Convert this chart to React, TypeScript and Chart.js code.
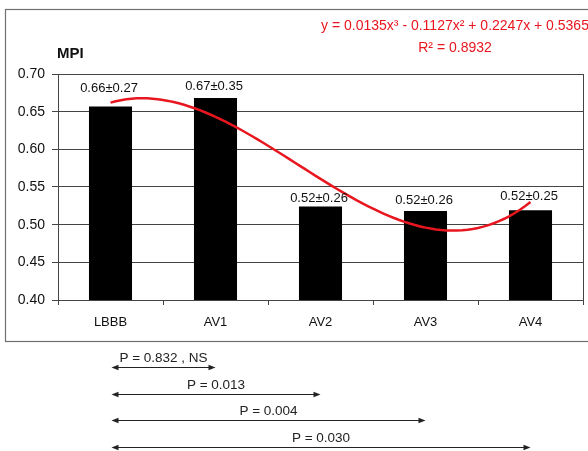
import { useEffect, useRef } from "react";
import { Chart, registerables } from "chart.js";

Chart.register(...registerables);

// Mean MPI per pacing mode
const categories = ["LBBB", "AV1", "AV2", "AV3", "AV4"];
const mpiMeans = [0.657, 0.668, 0.524, 0.518, 0.519];
const meanLabels = ["0.66±0.27", "0.67±0.35", "0.52±0.26", "0.52±0.26", "0.52±0.25"];

// y axis range
const yMin = 0.4;
const yMax = 0.7;
const yStep = 0.05;

// Cubic trendline: coefficients for x³, x², x, constant
const trendCoefficients = [0.0135, -0.1127, 0.2247, 0.5365];
const trendEquation = "y = 0.0135x³ - 0.1127x² + 0.2247x + 0.5365";
const trendR2 = "R² = 0.8932";

// Pairwise comparisons against LBBB (index 0)
const comparisonTargets = [1, 2, 3, 4];
const comparisonLabels = ["P = 0.832 , NS", "P = 0.013", "P = 0.004", "P = 0.030"];

// Lift (px) of each mean label above its bar
const labelLift = [18, 12, 8, 11, 14];

const FONT = "'Liberation Sans', Arial, Helvetica, sans-serif";
const RED = "#e8161e";
const INK = "#111";

function trendPoints() {
  const pts: { x: number; y: number }[] = [];
  const n = 80;
  for (let i = 0; i <= n; i++) {
    const x = 1 + (4 * i) / n;
    const [a, b, c, d] = trendCoefficients;
    pts.push({ x, y: a * x * x * x + b * x * x + c * x + d });
  }
  return pts;
}

function drawArrowHead(ctx: CanvasRenderingContext2D, x: number, y: number, dir: number) {
  ctx.beginPath();
  ctx.moveTo(x, y);
  ctx.lineTo(x - dir * 7, y - 2.8);
  ctx.lineTo(x - dir * 7, y + 2.8);
  ctx.closePath();
  ctx.fill();
}

const decorations = {
  id: "decorations",
  afterDraw(chart: any) {
    const { ctx, chartArea, scales } = chart;
    const xs = scales.x;
    const ys = scales.y;
    ctx.save();

    // outer frame
    ctx.strokeStyle = "#707070";
    ctx.lineWidth = 1.2;
    ctx.strokeRect(5.5, 9.5, 620, 332);

    // right edge of plot area
    ctx.strokeStyle = "#444";
    ctx.lineWidth = 1;
    ctx.beginPath();
    ctx.moveTo(Math.round(chartArea.right) + 0.5, chartArea.top);
    ctx.lineTo(Math.round(chartArea.right) + 0.5, chartArea.bottom + 5);
    ctx.stroke();

    // axis title
    ctx.fillStyle = INK;
    ctx.font = `bold 15px ${FONT}`;
    ctx.textAlign = "left";
    ctx.textBaseline = "middle";
    ctx.fillText("MPI", 57, 54);

    // trendline equation
    ctx.fillStyle = RED;
    ctx.font = `14px ${FONT}`;
    ctx.textAlign = "center";
    ctx.fillText(trendEquation, 455, 26);
    ctx.fillText(trendR2, 455, 48);

    // mean ± SD labels
    ctx.fillStyle = INK;
    ctx.font = `13px ${FONT}`;
    ctx.textBaseline = "middle";
    mpiMeans.forEach((v, i) => {
      const x = xs.getPixelForValue(i);
      const y = ys.getPixelForValue(v) - labelLift[i];
      ctx.fillText(meanLabels[i], x - 1.5, y);
    });

    // comparison arrows below the chart
    ctx.strokeStyle = "#222";
    ctx.fillStyle = "#222";
    ctx.lineWidth = 1;
    ctx.font = `13.5px ${FONT}`;
    const x0 = xs.getPixelForValue(0) + 1;
    comparisonTargets.forEach((t, i) => {
      const x1 = xs.getPixelForValue(t);
      const y = Math.round(chartArea.bottom + 67 + i * 26.5) + 0.5;
      ctx.beginPath();
      ctx.moveTo(x0 + 3, y);
      ctx.lineTo(x1 - 3, y);
      ctx.stroke();
      drawArrowHead(ctx, x0, y, -1);
      drawArrowHead(ctx, x1, y, 1);
      ctx.fillText(comparisonLabels[i], (x0 + x1) / 2, y - 9.5);
    });

    ctx.restore();
  },
};

export default function App() {
  const canvasRef = useRef<HTMLCanvasElement | null>(null);

  useEffect(() => {
    if (!canvasRef.current) return;
    const chart = new Chart(canvasRef.current, {
      type: "bar",
      data: {
        labels: categories,
        datasets: [
          {
            type: "line",
            data: trendPoints() as any,
            xAxisID: "xt",
            borderColor: RED,
            borderWidth: 2.5,
            pointRadius: 0,
            tension: 0,
            fill: false,
            order: 0,
          } as any,
          {
            type: "bar",
            data: mpiMeans,
            backgroundColor: "#000",
            borderWidth: 0,
            grouped: false,
            barPercentage: 0.41,
            categoryPercentage: 1,
            order: 1,
          } as any,
        ],
      },
      options: {
        responsive: false,
        animation: false,
        devicePixelRatio: 1,
        layout: { padding: { left: 0, top: 74, right: 5, bottom: 119 } },
        plugins: {
          legend: { display: false },
          tooltip: { enabled: false },
          title: { display: false },
        },
        scales: {
          x: {
            type: "category",
            offset: true,
            grid: {
              offset: true,
              drawOnChartArea: false,
              drawTicks: true,
              tickLength: 5,
              color: "#444",
            },
            border: { display: true, color: "#444" },
            ticks: {
              color: INK,
              padding: 10,
              font: { family: FONT, size: 13 },
            },
            afterFit: (s: any) => {
              s.height = 32;
            },
          },
          xt: {
            type: "linear",
            display: false,
            offset: false,
            grid: { offset: false },
            min: 0.5,
            max: 5.5,
          },
          y: {
            min: yMin,
            max: yMax,
            grid: {
              color: "#444",
              lineWidth: 1,
              drawTicks: true,
              tickLength: 6,
            },
            border: { display: true, color: "#444" },
            ticks: {
              stepSize: yStep,
              color: INK,
              padding: 7,
              font: { family: FONT, size: 14 },
              callback: (v: any) => Number(v).toFixed(2),
            },
            afterFit: (s: any) => {
              s.width = 58;
            },
          },
        },
      },
      plugins: [decorations],
    });
    return () => chart.destroy();
  }, []);

  return (
    <div style={{ position: "absolute", left: 0, top: 0, width: 588, height: 451, background: "#fff" }}>
      <canvas ref={canvasRef} width={588} height={451} style={{ display: "block" }} />
    </div>
  );
}
